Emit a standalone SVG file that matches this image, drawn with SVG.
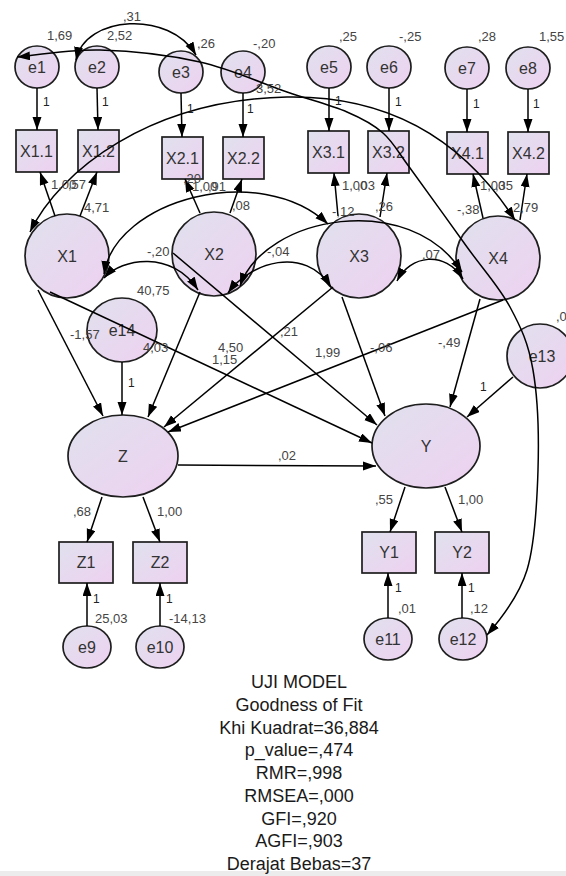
<svg xmlns="http://www.w3.org/2000/svg" width="566" height="876" viewBox="0 0 566 876">
  <defs>
    <linearGradient id="fillGrad" x1="0" y1="0" x2="1" y2="1">
      <stop offset="0" stop-color="#e0e1ee"/>
      <stop offset="1" stop-color="#eed1f0"/>
    </linearGradient>
    <marker id="arr" markerUnits="userSpaceOnUse" markerWidth="14" markerHeight="10" refX="13" refY="4.5" orient="auto-start-reverse">
      <path d="M0,0 L13,4.5 L0,9 z" fill="#000"/>
    </marker>
    <style>
      .node ellipse, .node rect { fill: url(#fillGrad); stroke: #1e1e1e; stroke-width: 1.7; }
      .node text { font-family: "Liberation Sans", Arial, sans-serif; font-size: 16px; fill: #333; text-anchor: middle; }
      .path { fill: none; stroke: #000; stroke-width: 1.5; marker-end: url(#arr); }
      .cov { fill: none; stroke: #000; stroke-width: 1.5; marker-start: url(#arr); marker-end: url(#arr); }
      .lbl { font-family: "Liberation Sans", Arial, sans-serif; font-size: 13px; fill: #444; }
      .one { font-family: "Liberation Sans", Arial, sans-serif; font-size: 12px; fill: #222; }
      .fit { font-family: "Liberation Sans", Arial, sans-serif; font-size: 18px; fill: #1a1a1a; text-anchor: middle; }
    </style>
  </defs>

  <rect x="0" y="0" width="566" height="876" fill="#fff"/>
  <rect x="0" y="871" width="566" height="5" fill="#ececec"/>

  <!-- error terms of the indicators -->
  <g id="e1" class="node"><ellipse cx="37" cy="67" rx="22" ry="21"/><text x="37" y="73">e1</text></g>
  <g id="e2" class="node"><ellipse cx="97" cy="67" rx="22" ry="21"/><text x="97" y="73">e2</text></g>
  <g id="e3" class="node"><ellipse cx="181" cy="72" rx="22" ry="21"/><text x="181" y="78">e3</text></g>
  <g id="e4" class="node"><ellipse cx="243" cy="72" rx="22" ry="21"/><text x="243" y="78">e4</text></g>
  <g id="e5" class="node"><ellipse cx="329" cy="67" rx="22" ry="21"/><text x="329" y="73">e5</text></g>
  <g id="e6" class="node"><ellipse cx="389" cy="67" rx="22" ry="21"/><text x="389" y="73">e6</text></g>
  <g id="e7" class="node"><ellipse cx="467" cy="68" rx="22" ry="21"/><text x="467" y="74">e7</text></g>
  <g id="e8" class="node"><ellipse cx="528" cy="68" rx="22" ry="21"/><text x="528" y="74">e8</text></g>

  <!-- observed indicators -->
  <g id="X1.1" class="node"><rect x="16" y="130" width="41" height="42"/><text x="36.5" y="157">X1.1</text></g>
  <g id="X1.2" class="node"><rect x="78" y="130" width="41" height="42"/><text x="98.5" y="157">X1.2</text></g>
  <g id="X2.1" class="node"><rect x="162" y="137" width="41" height="42"/><text x="182.5" y="164">X2.1</text></g>
  <g id="X2.2" class="node"><rect x="223" y="137" width="41" height="42"/><text x="243.5" y="164">X2.2</text></g>
  <g id="X3.1" class="node"><rect x="308" y="131" width="41" height="42"/><text x="328.5" y="158">X3.1</text></g>
  <g id="X3.2" class="node"><rect x="368" y="131" width="41" height="42"/><text x="388.5" y="158">X3.2</text></g>
  <g id="X4.1" class="node"><rect x="447" y="132" width="41" height="42"/><text x="467.5" y="159">X4.1</text></g>
  <g id="X4.2" class="node"><rect x="508" y="132" width="41" height="42"/><text x="528.5" y="159">X4.2</text></g>

  <!-- exogenous latent variables -->
  <g id="X1" class="node"><ellipse cx="67" cy="256" rx="42" ry="42"/><text x="67" y="262">X1</text></g>
  <g id="X2" class="node"><ellipse cx="214" cy="254" rx="42" ry="42"/><text x="214" y="260">X2</text></g>
  <g id="X3" class="node"><ellipse cx="359" cy="256" rx="42" ry="42"/><text x="359" y="262">X3</text></g>
  <g id="X4" class="node"><ellipse cx="498" cy="258" rx="42" ry="42"/><text x="498" y="264">X4</text></g>

  <!-- structural disturbances -->
  <g id="e14" class="node"><ellipse cx="122" cy="330" rx="35" ry="32"/><text x="122" y="336">e14</text></g>
  <g id="e13" class="node"><ellipse cx="540" cy="356" rx="33" ry="32"/><text x="542" y="362">e13</text></g>

  <!-- endogenous latent variables -->
  <g id="Z" class="node"><ellipse cx="123" cy="456" rx="55" ry="41"/><text x="123" y="462">Z</text></g>
  <g id="Y" class="node"><ellipse cx="426" cy="446" rx="54" ry="42"/><text x="426" y="452">Y</text></g>

  <g id="Z1" class="node"><rect x="59" y="542" width="54" height="41"/><text x="86" y="568">Z1</text></g>
  <g id="Z2" class="node"><rect x="133" y="542" width="54" height="41"/><text x="160" y="568">Z2</text></g>
  <g id="Y1" class="node"><rect x="362" y="532" width="54" height="41"/><text x="389" y="558">Y1</text></g>
  <g id="Y2" class="node"><rect x="435" y="532" width="54" height="41"/><text x="462" y="558">Y2</text></g>

  <g id="e9" class="node"><ellipse cx="87" cy="647" rx="24" ry="21"/><text x="87" y="653">e9</text></g>
  <g id="e10" class="node"><ellipse cx="160" cy="647" rx="24" ry="21"/><text x="160" y="653">e10</text></g>
  <g id="e11" class="node"><ellipse cx="388" cy="639" rx="24" ry="21"/><text x="388" y="645">e11</text></g>
  <g id="e12" class="node"><ellipse cx="463" cy="639" rx="24" ry="21"/><text x="463" y="645">e12</text></g>

  <!-- connectors -->
  <g id="connectors">
    <!-- error terms to indicators -->
    <line class="path" x1="37" y1="88" x2="37" y2="130"/>
    <line class="path" x1="97" y1="88" x2="98" y2="130"/>
    <line class="path" x1="181" y1="93" x2="182" y2="137"/>
    <line class="path" x1="243" y1="93" x2="243" y2="137"/>
    <line class="path" x1="329" y1="88" x2="329" y2="131"/>
    <line class="path" x1="389" y1="88" x2="389" y2="131"/>
    <line class="path" x1="467" y1="89" x2="467" y2="132"/>
    <line class="path" x1="528" y1="89" x2="528" y2="132"/>

    <!-- loadings -->
    <line class="path" x1="55" y1="216" x2="40" y2="172"/>
    <line class="path" x1="80" y1="216" x2="97" y2="172"/>
    <line class="path" x1="200" y1="213" x2="185" y2="179"/>
    <line class="path" x1="230" y1="213" x2="242" y2="179"/>
    <line class="path" x1="338" y1="216" x2="334" y2="173"/>
    <line class="path" x1="380" y1="217" x2="387" y2="173"/>
    <line class="path" x1="483" y1="218" x2="473" y2="174"/>
    <line class="path" x1="520" y1="220" x2="527" y2="174"/>

    <!-- structural paths -->
    <line class="path" x1="38" y1="290" x2="103" y2="416"/>
    <line class="path" x1="200" y1="292" x2="148" y2="417"/>
    <line class="path" x1="333" y1="287" x2="164" y2="427"/>
    <line class="path" x1="503" y1="300" x2="168" y2="432"/>
    <line class="path" x1="122" y1="362" x2="122" y2="415"/>
    <line class="path" x1="50" y1="292" x2="372" y2="443"/>
    <line class="path" x1="173" y1="253" x2="377" y2="425"/>
    <line class="path" x1="342" y1="297" x2="385" y2="416"/>
    <line class="path" x1="480" y1="299" x2="450" y2="407"/>
    <line class="path" x1="513" y1="377" x2="467" y2="417"/>
    <line class="path" x1="178" y1="465" x2="376" y2="466"/>

    <line class="path" x1="102" y1="497" x2="87" y2="542"/>
    <line class="path" x1="143" y1="497" x2="160" y2="542"/>
    <line class="path" x1="405" y1="487" x2="390" y2="532"/>
    <line class="path" x1="445" y1="487" x2="462" y2="532"/>
    <line class="path" x1="87" y1="626" x2="87" y2="583"/>
    <line class="path" x1="160" y1="626" x2="160" y2="583"/>
    <line class="path" x1="388" y1="618" x2="388" y2="573"/>
    <line class="path" x1="462" y1="618" x2="462" y2="573"/>

    <!-- covariances -->
    <path class="cov" d="M 76 60 C 85 15, 170 10, 196 55"/>
    <path class="cov" d="M 17 57 C 30.8 55.8, 69.5 49.2, 100 50 C 130.5 50.8, 168.8 55, 200 62 C 231.2 69, 262.5 83.7, 287 92 C 311.5 100.3, 331 105.2, 347 112 C 363 118.8, 372.5 123.7, 383 133 C 393.5 142.3, 398 152, 410 168 C 424 187, 450.3 223.8, 467 247 C 483.7 270.2, 499 286.5, 510 307 C 521 327.5, 528.3 342.8, 533 370 C 537.7 397.2, 539 436.7, 538 470 C 537 503.3, 535 543.7, 527 570 C 519 596.3, 500 620, 487 635"/>
    <path class="cov" d="M 30 232 C 60 170, 150 100, 287 97 C 400 95, 470 150, 515 220"/>
    <path class="cov" d="M 104 274 C 115 200, 260 160, 328 224"/>
    <path class="cov" d="M 104 278 C 122 258, 172 250, 198 290"/>
    <path class="cov" d="M 228 293 C 250 262, 305 245, 331 287"/>
    <path class="cov" d="M 240 286 C 265 215, 410 190, 462 272"/>
    <path class="cov" d="M 397 281 C 410 255, 445 250, 463 279"/>
  </g>

  <!-- estimates -->
  <g id="estimates">
    <text class="lbl" x="47" y="40">1,69</text>
    <text class="lbl" x="107" y="40">2,52</text>
    <text class="lbl" x="123" y="21">,31</text>
    <text class="lbl" x="197" y="48">,26</text>
    <text class="lbl" x="253" y="48">-,20</text>
    <text class="lbl" x="339" y="41">,25</text>
    <text class="lbl" x="399" y="41">-,25</text>
    <text class="lbl" x="478" y="41">,28</text>
    <text class="lbl" x="539" y="41">1,55</text>
    <text class="lbl" x="256" y="93">3,52</text>

    <text class="one" x="43" y="106">1</text>
    <text class="one" x="102" y="106">1</text>
    <text class="one" x="187" y="113">1</text>
    <text class="one" x="247" y="113">1</text>
    <text class="one" x="335" y="105">1</text>
    <text class="one" x="395" y="106">1</text>
    <text class="one" x="473" y="108">1</text>
    <text class="one" x="533" y="108">1</text>

    <text class="lbl" x="51" y="189">1,00</text>
    <text class="lbl" x="68" y="189">,57</text>
    <text class="lbl" x="84" y="212">4,71</text>
    <text class="lbl" x="183" y="183">,20</text>
    <text class="lbl" x="192" y="191">1,00</text>
    <text class="lbl" x="208" y="191">,91</text>
    <text class="lbl" x="232" y="210">,08</text>
    <text class="lbl" x="342" y="190">1,00</text>
    <text class="lbl" x="357" y="190">,03</text>
    <text class="lbl" x="332" y="216">-,12</text>
    <text class="lbl" x="375" y="211">,26</text>
    <text class="lbl" x="480" y="190">1,00</text>
    <text class="lbl" x="495" y="190">,35</text>
    <text class="lbl" x="457" y="214">-,38</text>
    <text class="lbl" x="513" y="212">2,79</text>

    <text class="lbl" x="147" y="256">-,20</text>
    <text class="lbl" x="267" y="256">-,04</text>
    <text class="lbl" x="422" y="259">,07</text>

    <text class="lbl" x="137" y="295">40,75</text>
    <text class="lbl" x="70" y="339">-1,57</text>
    <text class="lbl" x="143" y="352">4,03</text>
    <text class="lbl" x="218" y="352">4,50</text>
    <text class="lbl" x="212" y="364">1,15</text>
    <text class="lbl" x="280" y="336">,21</text>
    <text class="lbl" x="315" y="357">1,99</text>
    <text class="lbl" x="370" y="352">-,06</text>
    <text class="lbl" x="438" y="347">-,49</text>
    <text class="lbl" x="556" y="321">,0</text>
    <text class="one" x="480" y="391">1</text>
    <text class="one" x="128" y="387">1</text>
    <text class="lbl" x="278" y="460">,02</text>

    <text class="lbl" x="73" y="516">,68</text>
    <text class="lbl" x="157" y="516">1,00</text>
    <text class="lbl" x="375" y="504">,55</text>
    <text class="lbl" x="458" y="504">1,00</text>

    <text class="one" x="93" y="603">1</text>
    <text class="one" x="166" y="603">1</text>
    <text class="one" x="395" y="592">1</text>
    <text class="one" x="468" y="592">1</text>
    <text class="lbl" x="95" y="623">25,03</text>
    <text class="lbl" x="169" y="623">-14,13</text>
    <text class="lbl" x="398" y="613">,01</text>
    <text class="lbl" x="470" y="613">,12</text>
  </g>

  <!-- model fit summary -->
  <g id="fit-summary">
    <text class="fit" x="299" y="688">UJI MODEL</text>
    <text class="fit" x="299" y="711">Goodness of Fit</text>
    <text class="fit" x="299" y="734">Khi Kuadrat=36,884</text>
    <text class="fit" x="299" y="756">p_value=,474</text>
    <text class="fit" x="299" y="779">RMR=,998</text>
    <text class="fit" x="299" y="802">RMSEA=,000</text>
    <text class="fit" x="299" y="825">GFI=,920</text>
    <text class="fit" x="299" y="847">AGFI=,903</text>
    <text class="fit" x="299" y="870">Derajat Bebas=37</text>
  </g>
</svg>
